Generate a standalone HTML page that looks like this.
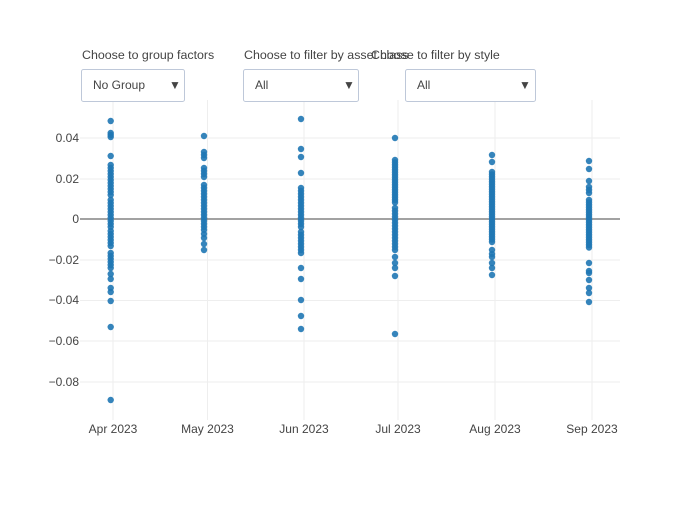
<!DOCTYPE html>
<html><head><meta charset="utf-8"><style>
body{margin:0;background:#fff;}
svg text{font-family:"Liberation Sans",sans-serif;font-size:12px;fill:#444;}
</style></head><body>
<svg id="s" width="700" height="500" xmlns="http://www.w3.org/2000/svg">
<rect width="700" height="500" fill="#fff"/>
<g stroke="#eee" stroke-width="1">
<line x1="80" x2="620" y1="138" y2="138"/><line x1="80" x2="620" y1="179" y2="179"/>
<line x1="80" x2="620" y1="260" y2="260"/><line x1="80" x2="620" y1="300.5" y2="300.5"/>
<line x1="80" x2="620" y1="341" y2="341"/><line x1="80" x2="620" y1="382" y2="382"/>
<line x1="113" x2="113" y1="100" y2="420"/><line x1="207.5" x2="207.5" y1="100" y2="420"/>
<line x1="304" x2="304" y1="100" y2="420"/><line x1="398" x2="398" y1="100" y2="420"/>
<line x1="495" x2="495" y1="100" y2="420"/><line x1="592" x2="592" y1="100" y2="420"/>
</g>
<line x1="80" x2="620" y1="219" y2="219" stroke="#444" stroke-width="1"/>
<g text-anchor="end">
<text x="79" y="142">0.04</text><text x="79" y="183">0.02</text><text x="79" y="223">0</text>
<text x="79" y="264">−0.02</text><text x="79" y="304">−0.04</text><text x="79" y="345">−0.06</text><text x="79" y="386">−0.08</text>
</g>
<g text-anchor="middle">
<text x="113" y="433">Apr 2023</text><text x="207.5" y="433">May 2023</text><text x="304" y="433">Jun 2023</text>
<text x="398" y="433">Jul 2023</text><text x="495" y="433">Aug 2023</text><text x="592" y="433">Sep 2023</text>
</g>
<g id="d" fill="#1f77b4"></g>
<text x="82" y="59" style="font-size:12.4px">Choose to group factors</text>
<text x="244" y="59" style="font-size:12.4px">Choose to filter by asset class</text>
<text x="371" y="59" style="font-size:12.4px">Choose to filter by style</text>
<g stroke="#bec8d9" fill="#fff">
<rect x="81.5" y="69.5" width="103" height="32" rx="2"/>
<rect x="243.5" y="69.5" width="115" height="32" rx="2"/>
<rect x="405.5" y="69.5" width="130" height="32" rx="2"/>
</g>
<text x="93" y="89">No Group</text><text x="255" y="89">All</text><text x="417" y="89">All</text>
<text x="169" y="89" font-size="11">▼</text><text x="343" y="89" font-size="11">▼</text><text x="519" y="89" font-size="11">▼</text>
</svg>
<script>
function rng(a,b,s){var r=[];for(var v=a;v<=b;v+=s)r.push(v);return r;}
var cols=[
[110.7,[121,133,135,137,156,165,168,171,174,177,180,183,186,189,192,195].concat(rng(200,227,3),rng(231,246,3),rng(253,268,3),[274,279,288,292,301,327,400])],
[204,[136,152,155,158,168,171,174,177].concat(rng(185,227,3),[230,234,238,244,250])],
[301,[119,149,157,173].concat(rng(188,228,3),rng(232,255,3),[268,279,300,316,329])],
[395,[138].concat(rng(160,203,2.5),rng(208,232,3),rng(235,250,3),[257,263,268,276,334])],
[492,[155,162].concat(rng(172,242,2.5),[250,254,257,263,268,275])],
[589,[161,169,181,187,190,193].concat(rng(200,248,2.5),[263,271,273,280,288,293,302])]
];
var g=document.getElementById('d'),h='';
cols.forEach(function(c){c[1].forEach(function(y){h+='<circle cx="'+c[0]+'" cy="'+y+'" r="3.2" opacity="0.9"/>';});});
g.innerHTML=h;
</script>
</body></html>
